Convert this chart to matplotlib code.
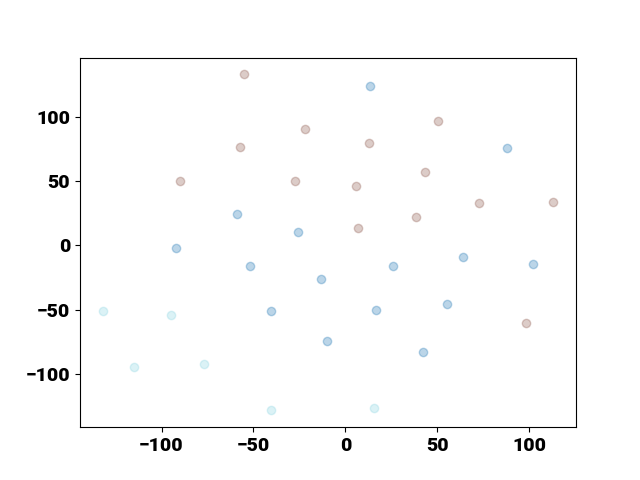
import matplotlib
matplotlib.use("Agg")
import matplotlib.pyplot as plt

plt.rcParams['font.family'] = ['Roboto', 'DejaVu Sans']

# cluster 0 (brown)
brown_x = [-54.9, -21.7, -57.4, -90.2, -27.3, 50.6, 13.1, 6.0, 43.4, 38.3, 6.8, 72.9, 113.2, 98.3]
brown_y = [132.9, 90.2, 76.7, 50.0, 50.3, 96.6, 79.5, 46.1, 57.0, 22.0, 13.4, 32.9, 33.7, -60.4]

# cluster 1 (blue)
blue_x = [13.5, 87.8, -58.9, -25.7, -91.9, -51.8, -13.0, 26.0, 64.1, 102.0, -40.5, 16.6, 55.2, -10.1, 42.2]
blue_y = [123.6, 75.4, 24.3, 10.6, -2.3, -15.8, -26.2, -16.1, -9.3, -14.5, -51.1, -50.3, -45.3, -74.6, -82.9]

# cluster 2 (light cyan)
cyan_x = [-132.1, -94.9, -114.9, -76.8, -40.7, 15.8]
cyan_y = [-50.8, -54.4, -94.8, -92.5, -128.2, -126.1]

fig, ax = plt.subplots(figsize=(6.4, 4.8), dpi=100)

ax.scatter(brown_x, brown_y, color="#8c564b", alpha=0.3)
ax.scatter(blue_x, blue_y, color="#1f77b4", alpha=0.3)
ax.scatter(cyan_x, cyan_y, color="#8ad4e2", alpha=0.3)

ax.tick_params(labelsize=14)
plt.setp(ax.get_xticklabels(), fontweight="black")
plt.setp(ax.get_yticklabels(), fontweight="black")

fig.savefig("out.png")
